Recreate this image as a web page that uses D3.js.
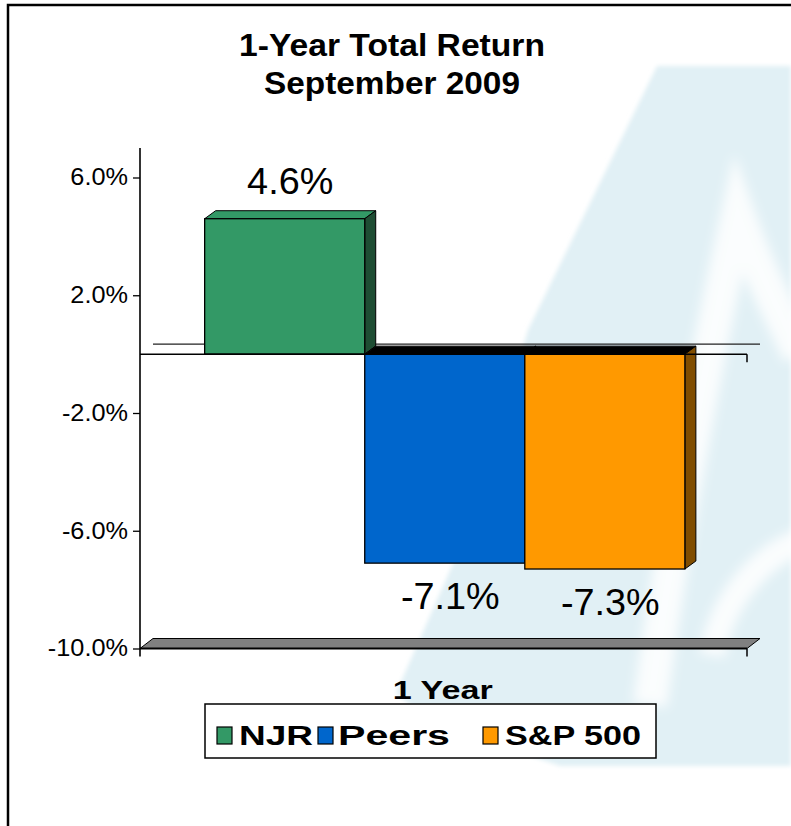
<!DOCTYPE html>
<html><head><meta charset="utf-8">
<script src="https://cdn.jsdelivr.net/npm/d3@7"></script>
<style>
body{margin:0;background:#fff}
svg{display:block}
text{font-family:"Liberation Sans",Arial,sans-serif;fill:#000}
</style>
</head><body>
<svg id="c" width="791" height="826"></svg>
<script>
// ---- data ----
const categories = ["1 Year"];
const seriesNames = ["NJR", "Peers", "S&P 500"];
const seriesValues = [4.6, -7.1, -7.3];
const valueLabels = ["4.6%", "-7.1%", "-7.3%"];
const tickValues = [6, 2, -2, -6, -10];
const tickLabels = ["6.0%", "2.0%", "-2.0%", "-6.0%", "-10.0%"];
const titleLines = ["1-Year Total Return", "September 2009"];
const axisMax = 7;
const frontColors = ["#339966", "#0066cc", "#ff9900"];
const sideColors = ["#1e4d33", "#003366", "#804d00"];

const svg = d3.select("#c");

function stretch(sel, f) {
  sel.each(function () {
    const L = this.getComputedTextLength();
    d3.select(this).attr("textLength", L * f).attr("lengthAdjust", "spacingAndGlyphs");
  });
}

// ---- frame ----
svg.append("rect").attr("x", 8).attr("y", 5).attr("width", 820).attr("height", 860)
  .attr("fill", "none").attr("stroke", "#000").attr("stroke-width", 2.5);

// ---- watermark ----
const wm = svg.append("g");
const defs = svg.append("defs");
defs.append("filter").attr("id", "soft").attr("x", "-20%").attr("y", "-20%").attr("width", "140%").attr("height", "140%")
  .append("feGaussianBlur").attr("stdDeviation", 6);
defs.append("filter").attr("id", "soft2").append("feGaussianBlur").attr("stdDeviation", 2);
wm.append("path")
  .attr("d", "M657,66 L791,66 L791,766 L560,766 L430,722 L396,693 L470,525 L528,330 Z")
  .attr("fill", "#e1f0f5").attr("filter", "url(#soft2)");
const wmw = wm.append("g").attr("filter", "url(#soft)");
wmw.append("path").attr("d", "M650,705 C675,520 712,330 738,215 C756,265 776,305 800,355")
  .attr("fill", "none").attr("stroke", "#ffffff").attr("stroke-width", 34).attr("stroke-opacity", 0.85);
wmw.append("path").attr("d", "M712,655 C722,600 760,555 805,540")
  .attr("fill", "none").attr("stroke", "#ffffff").attr("stroke-width", 26).attr("stroke-opacity", 0.85);

// ---- scales ----
const y = d3.scaleLinear().domain([-10, 6]).range([648.5, 177.5]);
const x0 = d3.scaleBand().domain(categories).range([140, 747]).paddingInner(0).paddingOuter(0.132).align(0.51);
const x1 = d3.scaleBand().domain(seriesNames).range([0, x0.bandwidth()]);
const y0 = y(0);
const wdx = 13, wdy = -10;   // wall depth
const bdx = 11, bdy = -8;    // bar depth
const xL = x0.range()[0], xR = x0.range()[1];

// back wall zero line
svg.append("line").attr("x1", xL + wdx).attr("x2", xR + wdx).attr("y1", y0 + wdy).attr("y2", y0 + wdy)
  .attr("stroke", "#222").attr("stroke-width", 1.2);

// floor
const yf = y(-10);
svg.append("path")
  .attr("d", `M${xL},${yf} L${xL + wdx},${yf + wdy} L${xR + wdx},${yf + wdy} L${xR},${yf} Z`)
  .attr("fill", "#808080").attr("stroke", "#000").attr("stroke-width", 1);
svg.append("line").attr("x1", xL).attr("x2", xR).attr("y1", yf).attr("y2", yf)
  .attr("stroke", "#000").attr("stroke-width", 2);
svg.append("line").attr("x1", xR).attr("x2", xR).attr("y1", yf).attr("y2", yf + 8)
  .attr("stroke", "#000").attr("stroke-width", 1.5);

// ---- bars ----
const cat = categories[0];
seriesNames.forEach((s, i) => {
  const v = seriesValues[i];
  const bx0 = x0(cat) + x1(s), bx1 = bx0 + x1.bandwidth();
  const yT = Math.min(y(v), y0), yB = Math.max(y(v), y0);
  const g = svg.append("g");
  g.append("path")
    .attr("d", `M${bx0},${yT} L${bx0 + bdx},${yT + bdy} L${bx1 + bdx},${yT + bdy} L${bx1},${yT} Z`)
    .attr("fill", v >= 0 ? frontColors[i] : "#000").attr("stroke", "#000").attr("stroke-width", 1);
  g.append("path")
    .attr("d", `M${bx1},${yT} L${bx1 + bdx},${yT + bdy} L${bx1 + bdx},${yB + bdy} L${bx1},${yB} Z`)
    .attr("fill", sideColors[i]).attr("stroke", "#000").attr("stroke-width", 1);
  g.append("rect").attr("x", bx0).attr("y", yT).attr("width", bx1 - bx0).attr("height", yB - yT)
    .attr("fill", frontColors[i]).attr("stroke", "#000").attr("stroke-width", 1.3);
});

// ---- category axis at zero ----
svg.append("line").attr("x1", xL).attr("x2", xR).attr("y1", y0).attr("y2", y0)
  .attr("stroke", "#000").attr("stroke-width", 1.5);
svg.append("line").attr("x1", xR).attr("x2", xR).attr("y1", y0).attr("y2", y0 + 8)
  .attr("stroke", "#000").attr("stroke-width", 1.5);

// ---- value axis ----
const yAxis = d3.axisLeft(y).tickValues(tickValues).tickFormat((d, i) => tickLabels[i]).tickSize(7).tickPadding(5);
const ga = svg.append("g").attr("transform", `translate(${xL},0)`).call(yAxis);
ga.select(".domain").remove();
ga.selectAll(".tick line").attr("stroke", "#000").attr("stroke-width", 1.3);
ga.selectAll(".tick text").attr("font-size", 23).attr("font-family", "Liberation Sans, Arial, sans-serif").attr("fill", "#000");
stretch(ga.selectAll(".tick text"), 1.1);
svg.append("line").attr("x1", xL).attr("x2", xL).attr("y1", y(axisMax)).attr("y2", yf + 8)
  .attr("stroke", "#000").attr("stroke-width", 1.6);

// ---- data labels ----
seriesNames.forEach((s, i) => {
  const v = seriesValues[i];
  const cx = x0(cat) + x1(s) + x1.bandwidth() / 2 + bdx / 2;
  const t = svg.append("text").attr("x", cx).attr("y", v >= 0 ? y(v) - 25 : y(v) + 46)
    .attr("text-anchor", "middle").attr("font-size", 36).text(valueLabels[i]);
  stretch(t, 1.05);
});

// ---- title ----
svg.append("text").attr("x", 392).attr("y", 56).attr("text-anchor", "middle")
  .attr("font-size", 31).attr("font-weight", "bold").text(titleLines[0])
  .attr("textLength", 306).attr("lengthAdjust", "spacingAndGlyphs");
svg.append("text").attr("x", 392).attr("y", 94).attr("text-anchor", "middle")
  .attr("font-size", 31).attr("font-weight", "bold").text(titleLines[1])
  .attr("textLength", 256).attr("lengthAdjust", "spacingAndGlyphs");

// ---- category label ----
svg.append("text").attr("x", x0(cat) + x0.bandwidth() / 2 - 2).attr("y", 699).attr("text-anchor", "middle")
  .attr("font-size", 25).attr("font-weight", "bold").text(cat)
  .attr("textLength", 100).attr("lengthAdjust", "spacingAndGlyphs");

// ---- legend ----
const lg = svg.append("g");
lg.append("rect").attr("x", 205).attr("y", 704).attr("width", 451).attr("height", 54)
  .attr("fill", "#fff").attr("stroke", "#000").attr("stroke-width", 1.5);
const legX = [217, 318, 483];
const legTextX = [239, 338, 505];
const legW = [74, 112, 136];
seriesNames.forEach((s, i) => {
  lg.append("rect").attr("x", legX[i]).attr("y", 727).attr("width", 15).attr("height", 17)
    .attr("fill", frontColors[i]).attr("stroke", "#000").attr("stroke-width", 1.2);
  lg.append("text").attr("x", legTextX[i]).attr("y", 745).attr("font-size", 27).attr("font-weight", "bold")
    .text(s).attr("textLength", legW[i]).attr("lengthAdjust", "spacingAndGlyphs");
});
</script>
</body></html>
